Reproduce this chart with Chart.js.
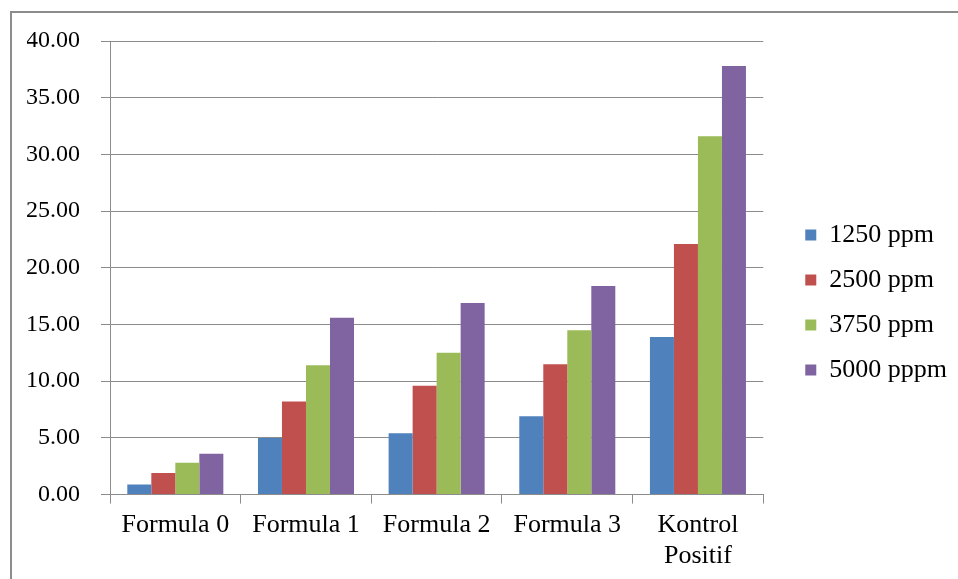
<!DOCTYPE html>
<html>
<head>
<meta charset="utf-8">
<script src="https://cdn.jsdelivr.net/npm/chart.js"></script>
<style>
  html, body { margin: 0; padding: 0; background: #fff; overflow: hidden; }
  #frame {
    position: absolute; left: 10px; top: 11px;
    width: 970px; height: 600px;
    border: 2px solid #8c8c8c; background: #fff;
  }
  #wrap { position: absolute; left: 0; top: 0; width: 970px; height: 600px; }
</style>
</head>
<body>
<div id="frame"><div id="wrap"><canvas id="grafica"></canvas></div></div>
<script>
// categorias del eje X
var kategori = ["Formula 0", "Formula 1", "Formula 2", "Formula 3", ["Kontrol", "Positif"]];
// series
var seri1250 = [0.9, 5.0, 5.4, 6.9, 13.9];
var seri2500 = [1.9, 8.2, 9.6, 11.5, 22.1];
var seri3750 = [2.8, 11.4, 12.5, 14.5, 31.6];
var seri5000 = [3.6, 15.6, 16.9, 18.4, 37.8];
var labelSeri = ["1250 ppm", "2500 ppm", "3750 ppm", "5000 pppm"];
var warna = ["#4f81bd", "#c0504d", "#9bbb59", "#8064a2"];

var fuente = "'Liberation Serif', 'Times New Roman', serif";
var gris = "#8c8c8c";

var valores = [seri1250, seri2500, seri3750, seri5000];
var datasets = [];
for (var i = 0; i < valores.length; i++) {
  datasets.push({
    label: labelSeri[i],
    data: valores[i],
    backgroundColor: warna[i],
    borderWidth: 0,
    categoryPercentage: 0.735,
    barPercentage: 1.0
  });
}

// ajustar la posicion vertical de la leyenda
var moverLeyenda = {
  id: 'moverLeyenda',
  afterLayout: function (chart) {
    chart.legend.top -= 7;
    chart.legend.bottom -= 7;
  }
};

new Chart(document.getElementById("grafica"), {
  type: 'bar',
  data: { labels: kategori, datasets: datasets },
  plugins: [moverLeyenda],
  options: {
    responsive: true,
    maintainAspectRatio: false,
    animation: false,
    layout: { padding: { left: 15, top: 28, right: 25, bottom: 35 } },
    plugins: {
      title: { display: false },
      tooltip: { enabled: false },
      legend: {
        position: 'right',
        maxWidth: 220,
        labels: {
          boxWidth: 11,
          boxHeight: 11,
          padding: 19,
          color: '#000',
          font: { family: fuente, size: 26 }
        }
      }
    },
    scales: {
      x: {
        grid: { drawOnChartArea: false, drawTicks: true, tickLength: 9, color: gris, offset: true },
        border: { color: gris, width: 1 },
        ticks: { color: '#000', padding: 6, font: { family: fuente, size: 26 } }
      },
      y: {
        min: 0, max: 40,
        grid: { color: gris, tickLength: 9, drawTicks: true },
        border: { color: gris, width: 1 },
        ticks: {
          stepSize: 5, color: '#000', padding: 21,
          font: { family: fuente, size: 24 },
          callback: function (v) { return v.toFixed(2); }
        },
        afterFit: function (s) {
          s.width = 83;
          s.paddingTop = 0;
          s.paddingBottom = 0;
        }
      },
      // espacio entre el grafico y la leyenda
      hueco: {
        position: 'right',
        display: true,
        grid: { display: false },
        ticks: { display: false },
        border: { display: false },
        afterFit: function (s) { s.width = 23; }
      }
    }
  }
});
</script>
</body>
</html>
